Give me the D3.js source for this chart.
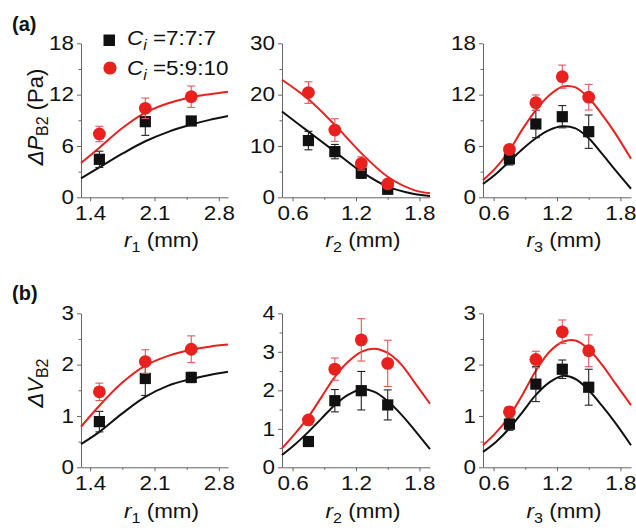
<!DOCTYPE html>
<html><head><meta charset="utf-8">
<script src="https://cdn.jsdelivr.net/npm/d3@7"></script>
<style>body{margin:0;background:#fff}</style>
</head><body>
<svg id="chart" width="636" height="530"></svg>
<script>
// ---------------- data ----------------
const seriesNames = ["7:7:7", "5:9:10"];
const r1Measured = [1.5, 2.0, 2.5];
const r23Measured = [0.75, 1.0, 1.25, 1.5];
const r1FitX = [1.3, 1.5, 1.75, 2.0, 2.25, 2.5, 2.7, 2.9];
const r2FitX_P = [0.5, 0.75, 1.0, 1.25, 1.5, 1.75, 1.9];
const r23FitX = [0.5, 0.625, 0.75, 0.875, 1.0, 1.125, 1.25, 1.375, 1.5, 1.625, 1.75, 1.9];

// (a) ΔP_B2 (Pa)
const dP_r1_777 = [4.44, 8.84, 8.92];
const dP_r1_777_err = [0.95, 1.6, 0.4];
const dP_r1_5910 = [7.4, 10.4, 11.76];
const dP_r1_5910_err = [0.9, 1.2, 1.25];
const dP_r1_777_fit = [2.2, 3.5, 5.1, 6.55, 7.65, 8.5, 9.05, 9.5];
const dP_r1_5910_fit = [4.0, 5.8, 8.1, 9.9, 11.0, 11.7, 12.05, 12.35];

const dP_r2_777 = [11.05, 8.9, 4.7, 1.56];
const dP_r2_777_err = [1.8, 1.4, 1.0, 0.3];
const dP_r2_5910 = [20.4, 13.1, 6.6, 2.6];
const dP_r2_5910_err = [2.1, 2.2, 1.3, 0.5];
const dP_r2_777_fit = [16.7, 12.8, 8.9, 5.0, 2.07, 0.64, 0.25];
const dP_r2_5910_fit = [22.9, 19.1, 14.1, 8.6, 4.0, 1.4, 0.8];

const dP_r3_777 = [4.48, 8.57, 9.42, 7.67];
const dP_r3_777_err = [0.7, 1.6, 1.3, 1.95];
const dP_r3_5910 = [5.6, 11.06, 14.1, 11.7];
const dP_r3_5910_err = [0.3, 0.9, 1.35, 1.5];
const dP_r3_777_fit = [1.55, 2.75, 4.2, 5.65, 6.9, 7.85, 8.3, 8.05, 6.9, 5.1, 3.2, 1.0];
const dP_r3_5910_fit = [2.0, 3.5, 5.5, 8.0, 10.2, 11.9, 12.93, 12.85, 11.6, 9.7, 7.5, 4.5];

// (b) ΔV_B2
const dV_r1_777 = [0.89, 1.73, 1.75];
const dV_r1_777_err = [0.2, 0.33, 0.1];
const dV_r1_5910 = [1.47, 2.06, 2.3];
const dV_r1_5910_err = [0.17, 0.23, 0.26];
const dV_r1_777_fit = [0.45, 0.69, 1.05, 1.37, 1.59, 1.72, 1.8, 1.86];
const dV_r1_5910_fit = [0.79, 1.2, 1.65, 1.98, 2.17, 2.29, 2.35, 2.39];

const dV_r2_777 = [0.67, 1.73, 1.99, 1.62];
const dV_r2_777_err = [0, 0.29, 0.5, 0.39];
const dV_r2_5910 = [1.23, 2.55, 3.31, 2.7];
const dV_r2_5910_err = [0.08, 0.29, 0.55, 0.6];
const dV_r2_777_fit = [0.32, 0.6, 0.92, 1.27, 1.62, 1.88, 2.03, 1.96, 1.72, 1.38, 0.98, 0.47];
const dV_r2_5910_fit = [0.49, 0.88, 1.31, 1.83, 2.35, 2.74, 3.0, 3.08, 2.97, 2.68, 2.22, 1.65];

const dV_r3_777 = [0.84, 1.62, 1.91, 1.56];
const dV_r3_777_err = [0.12, 0.34, 0.18, 0.35];
const dV_r3_5910 = [1.08, 2.1, 2.64, 2.27];
const dV_r3_5910_err = [0.1, 0.16, 0.23, 0.31];
const dV_r3_777_fit = [0.3, 0.5, 0.76, 1.08, 1.41, 1.65, 1.78, 1.72, 1.5, 1.2, 0.87, 0.43];
const dV_r3_5910_fit = [0.43, 0.68, 1.0, 1.42, 1.88, 2.24, 2.44, 2.47, 2.3, 2.0, 1.64, 1.21];

// ticks
const xTicksR1 = [1.4, 2.1, 2.8];
const xMinorR1 = [1.75, 2.45];
const xTicksR23 = [0.6, 1.2, 1.8];
const xMinorR23 = [0.9, 1.5];
const yTicksP18 = [0, 6, 12, 18];
const yMinorP18 = [3, 9, 15];
const yTicksP30 = [0, 10, 20, 30];
const yMinorP30 = [5, 15, 25];
const yTicksV3 = [0, 1, 2, 3];
const yMinorV3 = [0.5, 1.5, 2.5];
const yTicksV4 = [0, 1, 2, 3, 4];
const yMinorV4 = [0.5, 1.5, 2.5, 3.5];

// ---------------- layout / style ----------------
const FONT = "'Liberation Sans', Arial, sans-serif";
const TXT = "#111";
const BLACK = "#111";
const RED = "#e8211f";
const RED_ERR = "#e05a5a";
const AXIS = "#666";
const SX = 1.15;       // horizontal stretch of the lettering
const FS = 19.5;       // main font size
const colX = [[81, 228], [282, 430], [483, 631]];
const rowY = [[197.3, 43.3], [467.3, 313.3]];

const svg = d3.select("#chart").style("font-family", FONT);

const panels = [
  {row:0, col:0, xd:[1.3,2.9], yMax:18, xt:xTicksR1, xm:xMinorR1, yt:yTicksP18, ym:yMinorP18, sub:"1",
   mx:r1Measured, fx:r1FitX, s:[[dP_r1_777,dP_r1_777_err,dP_r1_777_fit],[dP_r1_5910,dP_r1_5910_err,dP_r1_5910_fit]]},
  {row:0, col:1, xd:[0.5,1.9], yMax:30, xt:xTicksR23, xm:xMinorR23, yt:yTicksP30, ym:yMinorP30, sub:"2",
   mx:r23Measured, fx:r2FitX_P, s:[[dP_r2_777,dP_r2_777_err,dP_r2_777_fit],[dP_r2_5910,dP_r2_5910_err,dP_r2_5910_fit]]},
  {row:0, col:2, xd:[0.5,1.9], yMax:18, xt:xTicksR23, xm:xMinorR23, yt:yTicksP18, ym:yMinorP18, sub:"3",
   mx:r23Measured, fx:r23FitX, s:[[dP_r3_777,dP_r3_777_err,dP_r3_777_fit],[dP_r3_5910,dP_r3_5910_err,dP_r3_5910_fit]]},
  {row:1, col:0, xd:[1.3,2.9], yMax:3, xt:xTicksR1, xm:xMinorR1, yt:yTicksV3, ym:yMinorV3, sub:"1",
   mx:r1Measured, fx:r1FitX, s:[[dV_r1_777,dV_r1_777_err,dV_r1_777_fit],[dV_r1_5910,dV_r1_5910_err,dV_r1_5910_fit]]},
  {row:1, col:1, xd:[0.5,1.9], yMax:4, xt:xTicksR23, xm:xMinorR23, yt:yTicksV4, ym:yMinorV4, sub:"2",
   mx:r23Measured, fx:r23FitX, s:[[dV_r2_777,dV_r2_777_err,dV_r2_777_fit],[dV_r2_5910,dV_r2_5910_err,dV_r2_5910_fit]]},
  {row:1, col:2, xd:[0.5,1.9], yMax:3, xt:xTicksR23, xm:xMinorR23, yt:yTicksV3, ym:yMinorV3, sub:"3",
   mx:r23Measured, fx:r23FitX, s:[[dV_r3_777,dV_r3_777_err,dV_r3_777_fit],[dV_r3_5910,dV_r3_5910_err,dV_r3_5910_fit]]},
];

panels.forEach(p => {
  const [x0, x1] = colX[p.col];
  const [yb, yt] = rowY[p.row];
  const x = d3.scaleLinear().domain(p.xd).range([x0, x1]);
  const y = d3.scaleLinear().domain([0, p.yMax]).range([yb, yt]);
  const g = svg.append("g");

  // minor ticks
  g.append("g").attr("transform", `translate(0,${yb})`)
    .call(d3.axisBottom(x).tickValues(p.xm).tickSize(2.5).tickFormat(""))
    .call(a => a.select(".domain").remove())
    .call(a => a.selectAll("line").attr("stroke", AXIS));
  g.append("g").attr("transform", `translate(${x0},0)`)
    .call(d3.axisLeft(y).tickValues(p.ym).tickSize(2.5).tickFormat(""))
    .call(a => a.select(".domain").remove())
    .call(a => a.selectAll("line").attr("stroke", AXIS));

  // major axes
  g.append("g").attr("transform", `translate(0,${yb})`)
    .call(d3.axisBottom(x).tickValues(p.xt).tickSize(4).tickSizeOuter(0).tickPadding(4.8).tickFormat(d3.format(".1f")))
    .call(a => a.select(".domain").attr("stroke", AXIS))
    .call(a => a.selectAll("line").attr("stroke", AXIS))
    .call(a => a.selectAll("text").attr("font-size", FS).attr("fill", TXT).attr("font-family", FONT)
      .attr("transform", `scale(${SX},1)`));
  g.append("g").attr("transform", `translate(${x0},0)`)
    .call(d3.axisLeft(y).tickValues(p.yt).tickSize(4).tickSizeOuter(0).tickPadding(2.2).tickFormat(d3.format("d")))
    .call(a => a.select(".domain").attr("stroke", AXIS))
    .call(a => a.selectAll("line").attr("stroke", AXIS))
    .call(a => a.selectAll("text").attr("font-size", FS).attr("fill", TXT).attr("font-family", FONT)
      .attr("transform", `scale(${SX},1)`));

  // x title
  const xt = g.append("text")
    .attr("transform", `translate(${(x0 + x1) / 2 + 7},${p.row === 0 ? 247 : 518}) scale(${SX},1)`)
    .attr("text-anchor", "middle").attr("font-size", FS).attr("fill", TXT);
  xt.append("tspan").attr("font-style", "italic").text("r");
  xt.append("tspan").attr("font-size", 14).attr("dy", 5).text(p.sub);
  xt.append("tspan").attr("dy", -5).text(" (mm)");

  const line = d3.line().x(d => x(d[0])).y(d => y(d[1])).curve(d3.curveCatmullRom.alpha(0.5));
  const colors = [BLACK, RED];
  const errColors = ["#222", RED_ERR];

  // fits
  p.s.forEach((ser, i) => {
    const pts = p.fx.map((xv, k) => [xv, ser[2][k]]);
    g.append("path").attr("d", line(pts)).attr("fill", "none")
      .attr("stroke", colors[i]).attr("stroke-width", 2);
  });
  // error bars + markers
  p.s.forEach((ser, i) => {
    const data = p.mx.map((xv, k) => ({x: xv, v: ser[0][k], e: ser[1][k]}));
    const eb = g.append("g").attr("stroke", errColors[i]).attr("stroke-width", 1.1);
    data.filter(d => d.e > 0).forEach(d => {
      const cx = x(d.x), t = y(d.v + d.e), b = y(d.v - d.e);
      eb.append("line").attr("x1", cx).attr("x2", cx).attr("y1", t).attr("y2", b);
      eb.append("line").attr("x1", cx - 4).attr("x2", cx + 4).attr("y1", t).attr("y2", t);
      eb.append("line").attr("x1", cx - 4).attr("x2", cx + 4).attr("y1", b).attr("y2", b);
    });
    if (i === 0) {
      g.selectAll(null).data(data).enter().append("rect")
        .attr("x", d => x(d.x) - 5.6).attr("y", d => y(d.v) - 5.6)
        .attr("width", 11.2).attr("height", 11.2).attr("fill", BLACK);
    } else {
      g.selectAll(null).data(data).enter().append("circle")
        .attr("cx", d => x(d.x)).attr("cy", d => y(d.v)).attr("r", 6.4).attr("fill", RED);
    }
  });
});

// y titles
const yt1 = svg.append("text").attr("transform", "translate(43,117) rotate(-90)")
  .attr("text-anchor", "middle").attr("font-size", 22).attr("fill", TXT);
yt1.append("tspan").attr("font-style", "italic").text("ΔP");
yt1.append("tspan").attr("font-size", 16).attr("dy", 5).text("B2");
yt1.append("tspan").attr("dy", -5).text(" (Pa)");

const yt2 = svg.append("text").attr("transform", "translate(43,383) rotate(-90)")
  .attr("text-anchor", "middle").attr("font-size", 22).attr("fill", TXT);
yt2.append("tspan").attr("font-style", "italic").text("ΔV");
yt2.append("tspan").attr("font-size", 16).attr("dy", 5).text("B2");

// panel letters
svg.append("text").attr("x", 12).attr("y", 31).attr("font-size", 20).attr("font-weight", "bold").attr("fill", TXT).text("(a)");
svg.append("text").attr("x", 12).attr("y", 300).attr("font-size", 20).attr("font-weight", "bold").attr("fill", TXT).text("(b)");

// legend
const leg = svg.append("g");
leg.append("rect").attr("x", 103.5).attr("y", 34.5).attr("width", 11.5).attr("height", 11.5).attr("fill", BLACK);
leg.append("circle").attr("cx", 110).attr("cy", 68).attr("r", 6.6).attr("fill", RED);
seriesNames.forEach((name, i) => {
  const t = leg.append("text").attr("transform", `translate(127,${i === 0 ? 45 : 75}) scale(${SX},1)`)
    .attr("font-size", FS).attr("fill", TXT);
  t.append("tspan").attr("font-style", "italic").text("C");
  t.append("tspan").attr("font-style", "italic").attr("font-size", 14).attr("dy", 5).text("i");
  t.append("tspan").attr("dy", -5).text(" =" + name);
});
</script>
</body></html>
